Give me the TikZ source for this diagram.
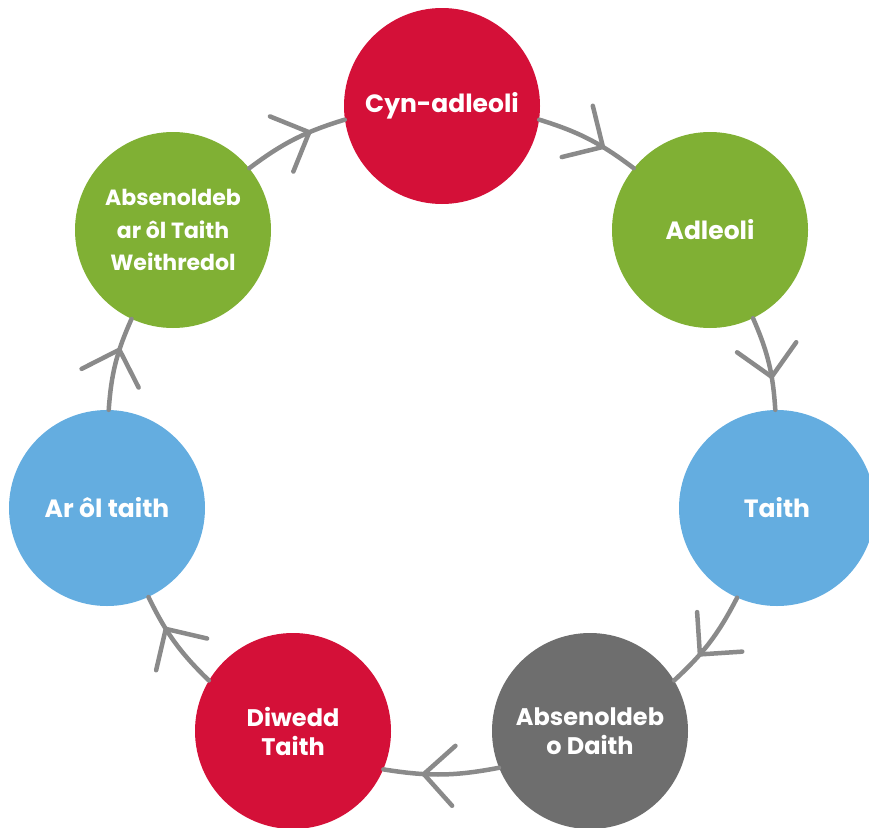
\documentclass[tikz,border=0pt]{standalone}
\usepackage{fontspec}
\setmainfont{Poppins}
\usetikzlibrary{decorations.markings}
\definecolor{cred}{RGB}{212,16,56}
\definecolor{cgreen}{RGB}{128,176,52}
\definecolor{cblue}{RGB}{100,173,224}
\definecolor{cgray}{RGB}{110,110,110}
\definecolor{lgray}{RGB}{138,138,138}
\tikzset{
  stage/.style={circle,minimum size=196pt,inner sep=0pt,text=white,align=center,font=\bfseries\fontsize{25}{30}\selectfont},
  conn/.style={draw=lgray,line width=4.5pt,line cap=round,line join=round,
    postaction={decorate},
    decoration={markings,mark=at position 0.65 with {\draw[lgray,line width=4.5pt,line cap=round,line join=round] (-30pt,30pt) -- (0pt,0pt) -- (-30pt,-30pt);}}}
}
\begin{document}
\begin{tikzpicture}[x=1pt,y=-1pt]
\useasboundingbox (0,0) rectangle (869,827);
\node[stage,fill=cred] (cyn) at (442,106) {\raisebox{-3pt}{Cyn-adleoli}};
\node[stage,fill=cgreen] (adl) at (710,230) {\raisebox{-2pt}{Adleoli}};
\node[stage,fill=cblue] (tai) at (777,508) {Taith};
\node[stage,fill=cgray,font=\bfseries\fontsize{24}{29}\selectfont,text depth=-6pt] (abs) at (590,731) {Absenoldeb\\o Daith};
\node[stage,fill=cred,font=\bfseries\fontsize{24}{29}\selectfont,text depth=-6pt] (diw) at (293,731) {Diwedd\\Taith};
\node[stage,fill=cblue] (arl) at (107,508) {Ar ôl taith};
\node[stage,fill=cgreen,font=\bfseries\fontsize{22}{32.5}\selectfont] (abt) at (173,230) {Absenoldeb\\ar ôl Taith\\Weithredol};
\path[conn] (cyn.-8) to[bend left=10] (adl.141);
\path[conn] (adl.-64.5) to[bend left=10] (tai.91);
\path[conn] (tai.-114) to[bend left=10] (abs.31.6);
\path[conn] (abs.-158) to[bend left=10] (diw.-23);
\path[conn] (diw.149) to[bend left=10] (arl.-65.5);
\path[conn] (arl.89) to[bend left=10] (abt.-115.5);
\path[conn] (abt.39.6) to[bend left=10] (cyn.-172);
\end{tikzpicture}
\end{document}
